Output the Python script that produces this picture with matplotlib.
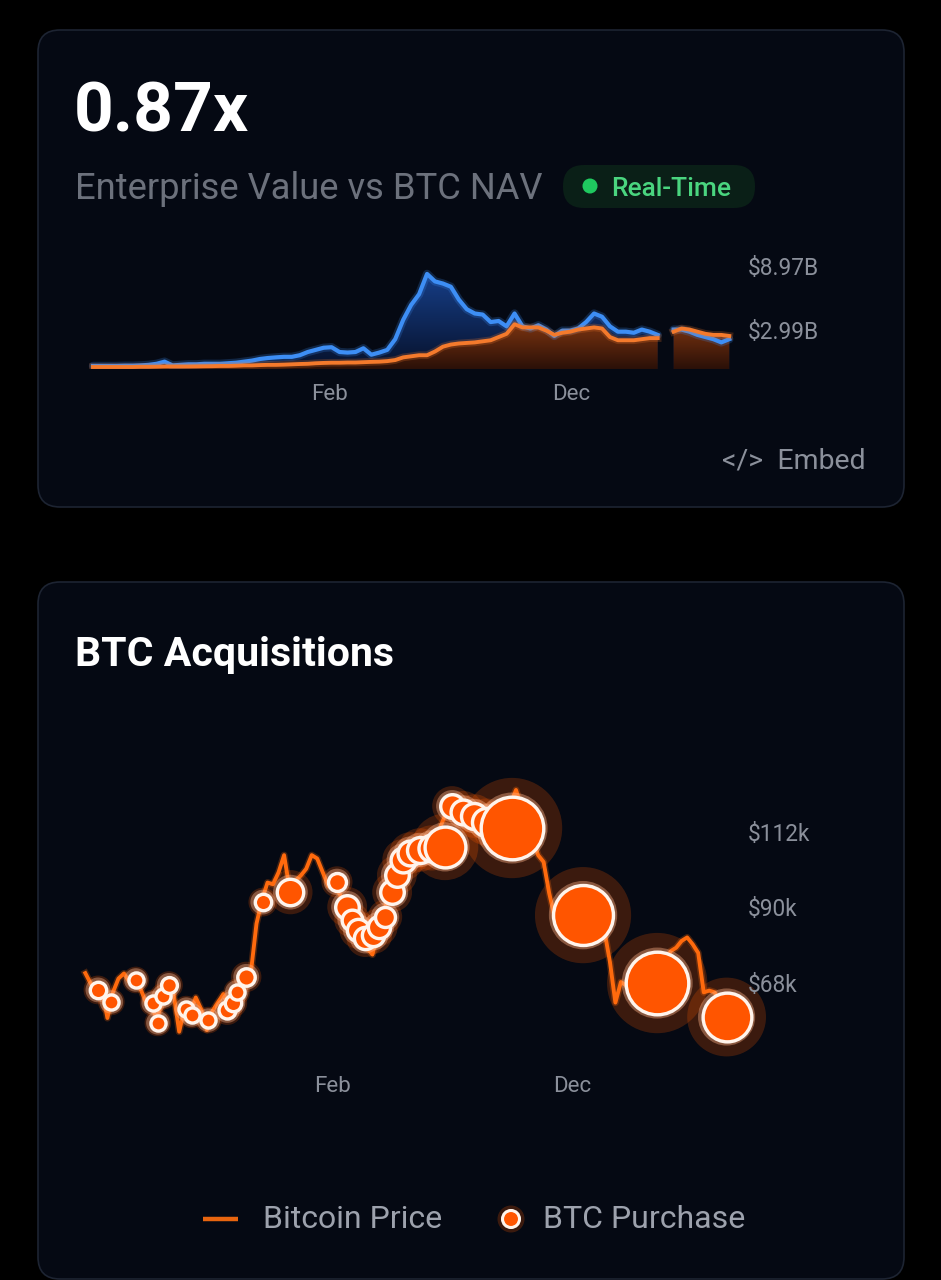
import numpy as np
import matplotlib
matplotlib.use("Agg")
import matplotlib.pyplot as plt
from matplotlib.patches import FancyBboxPatch, Circle
from matplotlib.path import Path
from matplotlib.colors import LinearSegmentedColormap
from matplotlib import transforms

plt.rcParams['font.family'] = ['Roboto', 'DejaVu Sans']

# ---------------- data ----------------
# Chart 1: Enterprise value vs BTC NAV (billions USD), one sample every 10 days,
# days counted relative to the "Feb" tick
ev_start_day = -298
ev_step_days = 10
ev_values = [
    0.1, 0.1, 0.1, 0.1, 0.12, 0.12, 0.15, 0.2, 0.3, 0.5,
    0.15, 0.2, 0.25, 0.25, 0.3, 0.3, 0.3, 0.35, 0.4, 0.5,
    0.6, 0.75, 0.84, 0.9, 0.95, 0.95, 1.1, 1.4, 1.6, 1.8,
    1.85, 1.4, 1.35, 1.4, 1.75, 1.15, 1.35, 1.6, 2.6, 4.4,
    5.8, 6.8, 8.7, 8.0, 7.8, 7.5, 6.3, 5.4, 5.0, 4.9,
    4.2, 4.3, 3.8, 5.0, 3.8, 3.6, 3.9, 3.5, 2.9, 3.4,
    3.4, 3.6, 4.2, 5.0, 4.7, 3.8, 3.3, 3.3, 3.2, 3.5,
    3.3, 3.0, np.nan, 3.5, 3.5, 3.3, 3.0, 2.8, 2.6, 2.3, 2.6,
]
nav_values = [
    0.0, 0.0, 0.0, 0.0, 0.0, 0.0, 0.02, 0.02, 0.03, 0.05,
    0.05, 0.05, 0.05, 0.06, 0.07, 0.08, 0.1, 0.1, 0.12, 0.15,
    0.15, 0.18, 0.2, 0.2, 0.22, 0.25, 0.28, 0.3, 0.35, 0.38,
    0.4, 0.4, 0.42, 0.42, 0.45, 0.48, 0.5, 0.55, 0.65, 0.9,
    1.0, 1.1, 1.1, 1.45, 1.9, 2.1, 2.2, 2.25, 2.3, 2.4,
    2.5, 2.8, 3.1, 4.0, 3.7, 3.7, 3.7, 3.4, 3.0, 3.2,
    3.3, 3.5, 3.6, 3.7, 3.6, 2.8, 2.5, 2.5, 2.5, 2.6,
    2.7, 2.7, np.nan, 3.3, 3.6, 3.5, 3.3, 3.1, 3.0, 3.0, 2.9,
]
ev_tick_values = [8.97, 2.99]
ev_tick_labels = ['$8.97B', '$2.99B']

x_tick_days = [0, 303]
x_tick_labels = ['Feb', 'Dec']

# Chart 2: Bitcoin price (thousand USD), weekly samples
price_start_day = -314
price_step_days = 7
btc_price_k = [
    71.6, 68.5, 66, 67, 58.5, 66, 70, 71.5, 69, 69.5,
    67, 63, 62, 58, 64.5, 67.5, 65.5, 54.5, 61.5, 60,
    64.5, 61, 55, 60.5, 63, 65.5, 61, 64, 68, 70,
    72, 86, 93, 98, 97.5, 101, 106, 96, 98.5, 100,
    102, 106, 105, 101, 97, 96.5, 95, 91, 86.5, 84,
    82, 79, 77, 84, 89, 95, 98, 103, 106, 107,
    109, 107.5, 108, 109, 113, 117, 121, 120, 118.5, 119,
    117.5, 116, 116.5, 115, 115, 116, 118, 121, 125, 120,
    114, 111, 106, 104, 95, 88, 86, 87, 88, 89,
    88.5, 89, 90, 88, 84, 75, 63, 69, 68, 67,
    68, 69, 70, 69, 71, 74, 78, 79, 81, 82,
    80, 77.5, 66, 66.5, 66, 62, 59, 59,
]
purchase_days = [-298, -281, -250, -228, -222, -215, -208, -186, -179, -158,
                 -134, -127, -122, -110, -89, -54, 5, 18, 24, 32,
                 41, 51, 58, 66, 75, 81, 89, 98, 110, 125,
                 142, 151, 165, 179, 194, 208, 227, 317, 411, 499]
purchase_price_k = [66.7, 63.2, 69.6, 62.9, 57.1, 64.9, 68.1, 61.1, 59.4, 57.9,
                    60.8, 62.9, 66.1, 70.5, 92.3, 95.2, 98.2, 90.9, 87.1, 84.2,
                    81.8, 82.7, 85.0, 88.0, 95.2, 100.2, 104.6, 106.6, 107.5, 108.1,
                    108.4, 120.3, 118.6, 117.4, 115.7, 114.5, 113.9, 88.5, 68.7, 58.8]
purchase_btc = [5, 3, 3, 3, 3, 3, 4, 3, 3, 3,
                6, 5, 3, 7, 5, 37, 8, 25, 15, 20,
                20, 20, 20, 13, 25, 25, 30, 30, 35, 40,
                135, 25, 30, 35, 45, 60, 400, 360, 400, 215]
price_tick_values = [112, 90, 68]
price_tick_labels = ['$112k', '$90k', '$68k']

# ---------------- layout helpers ----------------
W, H = 941, 1280
fig = plt.figure(figsize=(W / 100, H / 100), dpi=100)
fig.patch.set_facecolor('#000000')
bg = fig.add_axes([0, 0, 1, 1])
bg.set_xlim(0, W)
bg.set_ylim(H, 0)
bg.axis('off')

CARD = '#050913'
EDGE = '#1d2432'
GRAY = '#8b909b'


def px_axes(l, t, r, b):
    a = fig.add_axes([l / W, 1 - b / H, (r - l) / W, (b - t) / H])
    a.set_facecolor('none')
    for s in a.spines.values():
        s.set_visible(False)
    a.set_xticks([])
    a.set_yticks([])
    return a


for (t, b) in [(30, 507), (582, 1279)]:
    bg.add_patch(FancyBboxPatch((38, t), 866, b - t,
                                boxstyle="round,pad=0,rounding_size=22",
                                fc=CARD, ec=EDGE, lw=1.2))

# ---------------- header texts ----------------
bg.text(74, 132, '0.87x', color='white', fontsize=50, fontweight='bold', va='baseline', ha='left')
bg.text(75, 199, 'Enterprise Value vs BTC NAV', color='#6c717c', fontsize=26.2, va='baseline', ha='left')
bg.add_patch(FancyBboxPatch((563, 165), 192, 43, boxstyle="round,pad=0,rounding_size=21",
                            fc='#0a1f17', ec='none'))
bg.add_patch(Circle((590, 186), 7.5, fc='#1fc95f', ec='none'))
bg.text(611, 196, 'Real-Time', color='#4ad57f', fontsize=19, fontweight='medium', va='baseline', ha='left')
bg.text(866, 461, '</>  Embed', color=GRAY, fontsize=20.5, va='center', ha='right')
bg.text(75, 666, 'BTC Acquisitions', color='white', fontsize=29.5, fontweight='bold', va='baseline', ha='left')

# ---------------- chart 1 ----------------
AX1_L, AX1_T, AX1_R, AX1_B = 60, 250, 742, 369
FEB1_PX, DEC1_PX = 330, 571
ppd1 = (DEC1_PX - FEB1_PX) / (x_tick_days[1] - x_tick_days[0])
ax1 = px_axes(AX1_L, AX1_T, AX1_R, AX1_B)
xl1 = ((AX1_L - FEB1_PX) / ppd1, (AX1_R - FEB1_PX) / ppd1)
ppb = 10.7          # pixels per billion
y0_1 = -(AX1_B - 367) / ppb
yl1 = (y0_1, y0_1 + (AX1_B - AX1_T) / ppb)

x_ev = ev_start_day + ev_step_days * np.arange(len(ev_values))
ev = np.array(ev_values, dtype=float)
nav = np.array(nav_values, dtype=float)


def gradient_fill(ax, x, y, c_top, c_bot, y0, ytop, z):
    poly = ax.fill_between(x, y, y0, facecolor='none', edgecolor='none')
    paths = [p for p in poly.get_paths() if len(p.vertices)]
    path = Path.make_compound_path(*paths)
    cmap = LinearSegmentedColormap.from_list('g', [c_bot, c_top])
    grad = np.linspace(0, 1, 256).reshape(-1, 1)
    im = ax.imshow(grad, cmap=cmap, aspect='auto', origin='lower',
                   extent=[ax.get_xlim()[0], ax.get_xlim()[1], y0, ytop], zorder=z,
                   interpolation='bilinear')
    im.set_clip_path(path, ax.transData)


ax1.set_xlim(*xl1)
ax1.set_ylim(*yl1)
gradient_fill(ax1, x_ev, ev, '#17408c', '#07112a', y0_1, 9.0, 1)
gradient_fill(ax1, x_ev, nav, '#7a3310', '#2a1008', y0_1, 4.0, 2)
ax1.plot(x_ev, ev, color='#3d8ef5', lw=6, alpha=0.22, zorder=3, solid_capstyle='round')
ax1.plot(x_ev, ev, color='#3d8ef5', lw=3.0, zorder=4, solid_joinstyle='round')
ax1.plot(x_ev, nav, color='#f47a2c', lw=5.5, alpha=0.22, zorder=5)
ax1.plot(x_ev, nav, color='#f47a2c', lw=2.8, zorder=6, solid_joinstyle='round')
ax1.set_xlim(*xl1)
ax1.set_ylim(*yl1)

tr1 = transforms.blended_transform_factory(ax1.transAxes, ax1.transData)
for v, lab in zip(ev_tick_values, ev_tick_labels):
    ax1.text(1.0, v, lab, transform=transforms.offset_copy(tr1, fig=fig, x=6, y=3, units='dots'),
             color=GRAY, fontsize=16.3, va='center', ha='left')
trx1 = transforms.blended_transform_factory(ax1.transData, ax1.transAxes)
for d, lab in zip(x_tick_days, x_tick_labels):
    ax1.text(d, 0, lab, transform=transforms.offset_copy(trx1, fig=fig, x=0, y=-26, units='dots'),
             color=GRAY, fontsize=16, va='center', ha='center')

# ---------------- chart 2 ----------------
AX2_L, AX2_T, AX2_R, AX2_B = 60, 730, 742, 1065
FEB2_PX, DEC2_PX = 333, 572
ppd2 = (DEC2_PX - FEB2_PX) / (x_tick_days[1] - x_tick_days[0])
ax2 = px_axes(AX2_L, AX2_T, AX2_R, AX2_B)
xl2 = ((AX2_L - FEB2_PX) / ppd2, (AX2_R - FEB2_PX) / ppd2)
ppk = 3.43          # pixels per $1k
yl2 = (90 - (AX2_B - 910) / ppk, 90 + (910 - AX2_T) / ppk)
ax2.set_xlim(*xl2)
ax2.set_ylim(*yl2)

x_price = price_start_day + price_step_days * np.arange(len(btc_price_k))
r_bub = 7 + 1.3 * np.sqrt(np.array(purchase_btc, dtype=float))   # radius in px
r_halo = 1.55 * r_bub - 1
EDGE_PX = 3.4


def s_of(rpx):
    return (2 * rpx * 0.72) ** 2


ax2.scatter(purchase_days, purchase_price_k, s=s_of(r_halo), c='#ff5a00', alpha=0.22,
            linewidths=0, zorder=2, clip_on=False)
ax2.plot(x_price, btc_price_k, color='#ff6a0d', lw=5, alpha=0.25, zorder=3, solid_joinstyle='round')
ax2.plot(x_price, btc_price_k, color='#ff6a0d', lw=2.8, zorder=3, solid_joinstyle='round')
ax2.scatter(purchase_days, purchase_price_k, s=s_of(r_bub + 2.5), c='#ffb48a', alpha=0.4,
            linewidths=0, zorder=4, clip_on=False)
for d, v, r in zip(purchase_days, purchase_price_k, r_bub):
    ax2.scatter([d], [v], s=s_of(r - EDGE_PX / 2), c='#ff5500', edgecolors='#fff4ec',
                linewidths=EDGE_PX * 0.72, zorder=5, clip_on=False)

tr2 = transforms.blended_transform_factory(ax2.transAxes, ax2.transData)
for v, lab in zip(price_tick_values, price_tick_labels):
    ax2.text(1.0, v, lab, transform=transforms.offset_copy(tr2, fig=fig, x=6, y=0, units='dots'),
             color=GRAY, fontsize=16.3, va='center', ha='left', zorder=6)
trx2 = transforms.blended_transform_factory(ax2.transData, ax2.transAxes)
for d, lab in zip(x_tick_days, x_tick_labels):
    ax2.text(d, 0, lab, transform=transforms.offset_copy(trx2, fig=fig, x=0, y=-21, units='dots'),
             color=GRAY, fontsize=16, va='center', ha='center')

# ---------------- legend ----------------
bg.plot([203, 238], [1219, 1219], color='#e8650f', lw=3.2, solid_capstyle='butt')
bg.text(263, 1219, 'Bitcoin Price', color='#9da2ad', fontsize=23, va='center', ha='left')
bg.add_patch(Circle((511, 1219), 13.5, fc='#ff5a00', alpha=0.22, ec='none'))
bg.add_patch(Circle((511, 1219), 8.5, fc='#ff5500', ec='#fff4ec', lw=2.2))
bg.text(543, 1219, 'BTC Purchase', color='#9da2ad', fontsize=23, va='center', ha='left')

fig.savefig('out.png', dpi=100, facecolor=fig.get_facecolor())
